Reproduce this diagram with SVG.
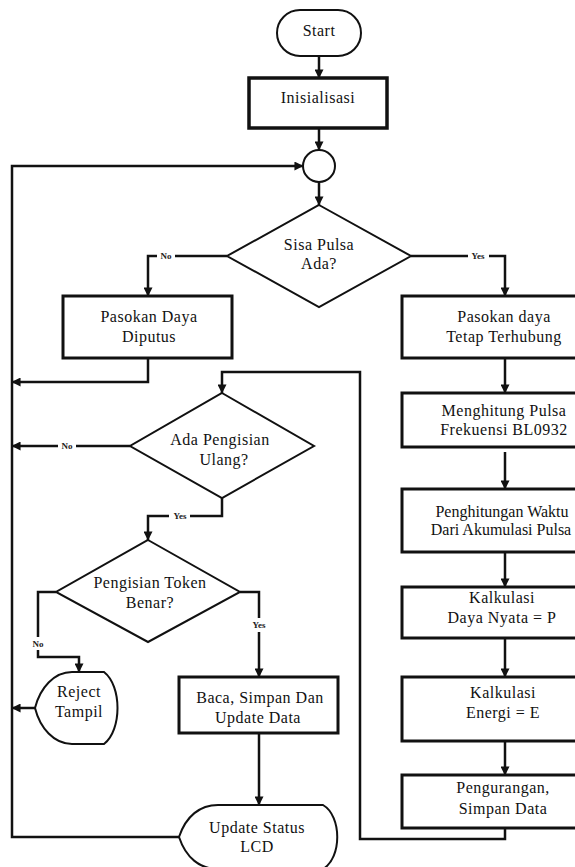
<svg xmlns="http://www.w3.org/2000/svg" width="575" height="867" viewBox="0 0 575 867">
<defs>
<marker id="ah" viewBox="0 0 10 10" refX="9.5" refY="5" markerWidth="10" markerHeight="9" markerUnits="userSpaceOnUse" orient="auto">
<path d="M0,0 L10,5 L0,10 z" fill="#111"/>
</marker>
</defs>
<style>
.box{fill:#fff;stroke:#111;stroke-width:3}
.dia{fill:#fff;stroke:#111;stroke-width:2}
.term{fill:#fff;stroke:#111;stroke-width:2}
.ln{fill:none;stroke:#111;stroke-width:2.5}
.arr{fill:none;stroke:#111;stroke-width:2.5;marker-end:url(#ah)}
.t{font-family:"Liberation Serif","Times New Roman",serif;font-size:16px;letter-spacing:0.5px;text-anchor:middle;fill:#111}
.tn{letter-spacing:0px}
.lb{font-family:"Liberation Serif","Times New Roman",serif;font-size:9px;font-weight:bold;text-anchor:middle;fill:#222}
.lbg{fill:#fff;stroke:none}
</style>
<rect width="575" height="867" fill="#fff"/>

<g id="connectors">
<line class="arr" x1="319" y1="56" x2="319" y2="78"/>
<line class="arr" x1="319" y1="128" x2="319" y2="150"/>
<line class="arr" x1="319" y1="182" x2="319" y2="205"/>
<polyline class="arr" points="227,256 148,256 148,296"/>
<polyline class="arr" points="411,256 505,256 505,296"/>
<polyline class="arr" points="148,358 148,382 12,382"/>
<line class="arr" x1="505" y1="358" x2="505" y2="393"/>
<line class="arr" x1="505" y1="452" x2="505" y2="489"/>
<line class="arr" x1="505" y1="552" x2="505" y2="587"/>
<line class="arr" x1="505" y1="638" x2="505" y2="677"/>
<line class="arr" x1="505" y1="741" x2="505" y2="775"/>
<polyline class="arr" points="505,828 505,839 360,839 360,372 222,372 222,393"/>
<line class="arr" x1="130" y1="446" x2="12" y2="446"/>
<polyline class="arr" points="222,498 222,516 148,516 148,540"/>
<polyline class="arr" points="56,592 38,592 38,657 79,657 79,672"/>
<polyline class="arr" points="240,592 259,592 259,677"/>
<line class="arr" x1="35" y1="708" x2="12" y2="708"/>
<line class="arr" x1="259" y1="733" x2="259" y2="805"/>
<polyline class="arr" points="179,837 12,837 12,166 303,166"/>
</g>

<g id="edge-labels">
<rect class="lbg" x="157" y="250" width="18" height="11"/>
<text class="lb" x="166" y="259">No</text>
<rect class="lbg" x="468" y="250" width="21" height="11"/>
<text class="lb" x="478" y="259">Yes</text>
<rect class="lbg" x="58" y="440" width="18" height="11"/>
<text class="lb" x="67" y="449">No</text>
<rect class="lbg" x="169" y="510" width="21" height="11"/>
<text class="lb" x="180" y="519">Yes</text>
<rect class="lbg" x="30" y="637" width="17" height="13"/>
<text class="lb" x="38" y="647">No</text>
<rect class="lbg" x="251" y="618" width="17" height="14"/>
<text class="lb" x="259" y="628">Yes</text>
</g>

<g id="start">
<rect class="term" x="277" y="10" width="84" height="46" rx="23"/>
<text class="t" x="319" y="36">Start</text>
</g>

<g id="inisialisasi">
<rect class="box" x="249" y="78" width="138" height="50" style="stroke-width:3.5"/>
<text class="t" x="318" y="103">Inisialisasi</text>
</g>

<g id="connector-circle">
<circle cx="319" cy="166" r="16" fill="#fff" stroke="#111" stroke-width="2"/>
</g>

<g id="sisa-pulsa">
<polygon class="dia" points="319,205 411,256 319,307 227,256"/>
<text class="t" x="319" y="250">Sisa Pulsa</text>
<text class="t" x="319" y="269">Ada?</text>
</g>

<g id="pasokan-diputus">
<rect class="box" x="63" y="296" width="169" height="62"/>
<text class="t" x="149" y="322">Pasokan Daya</text>
<text class="t" x="149" y="342">Diputus</text>
</g>

<g id="pasokan-terhubung">
<rect class="box" x="402" y="296" width="220" height="62"/>
<text class="t" x="504" y="322">Pasokan daya</text>
<text class="t" x="504" y="342">Tetap Terhubung</text>
</g>

<g id="menghitung">
<rect class="box" x="402" y="393" width="220" height="54"/>
<text class="t" x="504" y="416">Menghitung Pulsa</text>
<text class="t" x="504" y="435">Frekuensi  BL0932</text>
</g>

<g id="penghitungan">
<rect class="box" x="402" y="489" width="220" height="63"/>
<text class="t tn" x="502" y="517">Penghitungan Waktu</text>
<text class="t tn" x="501" y="535">Dari Akumulasi Pulsa</text>
</g>

<g id="kalkulasi-daya">
<rect class="box" x="402" y="587" width="220" height="51"/>
<text class="t" x="502" y="603">Kalkulasi</text>
<text class="t" x="502" y="623">Daya Nyata = P</text>
</g>

<g id="kalkulasi-energi">
<rect class="box" x="402" y="677" width="220" height="64"/>
<text class="t" x="503" y="698">Kalkulasi</text>
<text class="t" x="503" y="718">Energi = E</text>
</g>

<g id="pengurangan">
<rect class="box" x="402" y="775" width="220" height="53"/>
<text class="t" x="503" y="793">Pengurangan,</text>
<text class="t" x="503" y="814">Simpan Data</text>
</g>

<g id="ada-pengisian">
<polygon class="dia" points="222,393 314,446 222,498 130,446"/>
<text class="t" x="220" y="445">Ada Pengisian</text>
<text class="t" x="224" y="465">Ulang?</text>
</g>

<g id="pengisian-token">
<polygon class="dia" points="148,540 240,592 148,642 56,592"/>
<text class="t" x="150" y="588">Pengisian Token</text>
<text class="t" x="150" y="608">Benar?</text>
</g>

<g id="reject-tampil">
<path class="term" d="M35,708 C40,688 54,672 72,672 L104,672 C122,686 122,730 104,744 L72,744 C54,744 40,728 35,708 Z"/>
<text class="t" x="79" y="697">Reject</text>
<text class="t" x="79" y="717">Tampil</text>
</g>

<g id="baca-simpan">
<rect class="box" x="179" y="677" width="159" height="56"/>
<text class="t" x="260" y="703">Baca, Simpan Dan</text>
<text class="t" x="258" y="723">Update Data</text>
</g>

<g id="update-status">
<path class="term" d="M179,837 C186,816 200,805 218,805 L323,805 C342,816 342,858 323,869 L218,869 C200,869 186,858 179,837 Z"/>
<text class="t" x="257" y="833">Update Status</text>
<text class="t" x="257" y="852">LCD</text>
</g>
</svg>
